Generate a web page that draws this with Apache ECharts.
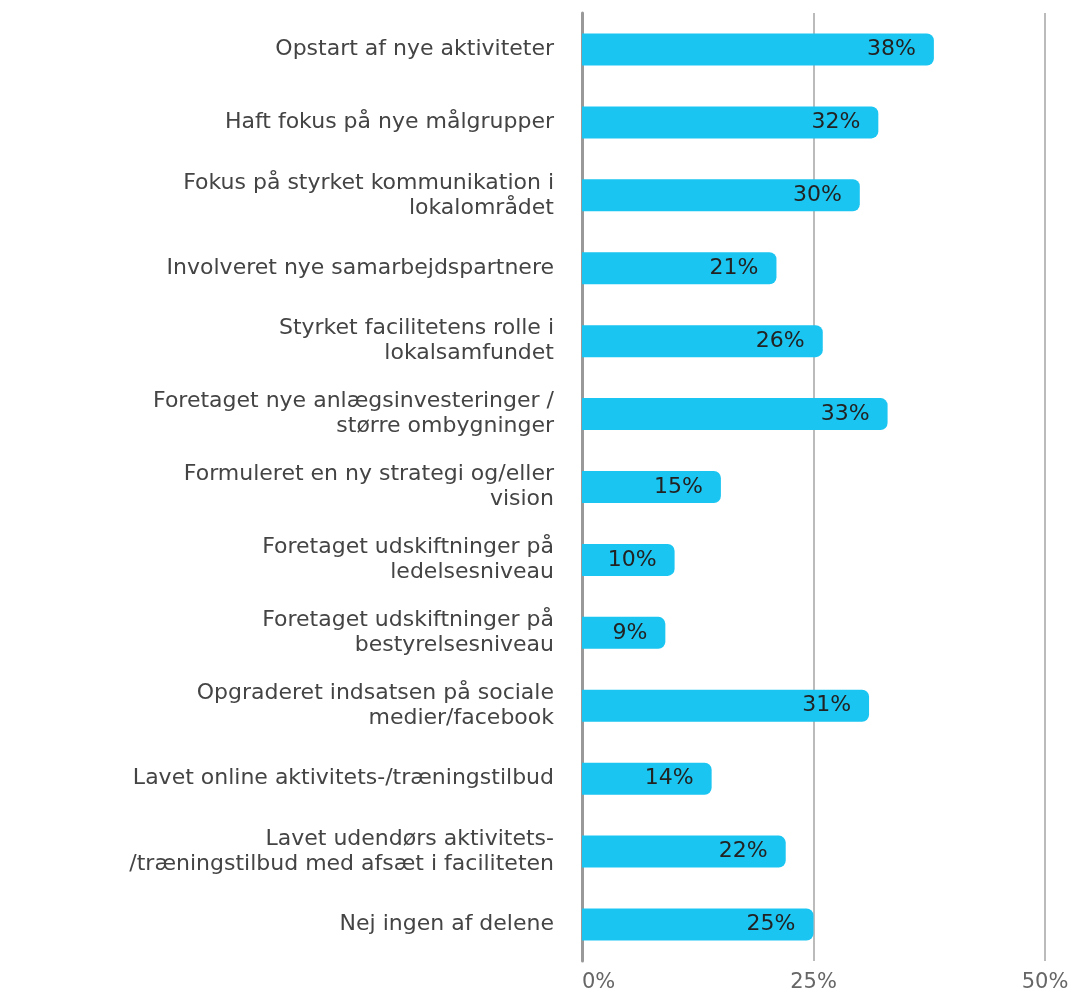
<!DOCTYPE html>
<html>
<head>
<meta charset="UTF-8">
<title>Aktiviteter</title>
<script type="text/javascript" src="https://cdn.jsdelivr.net/npm/echarts@6/dist/echarts.min.js"></script>
<style>
	html, body { margin: 0; padding: 0; background: #fff; }
	#main { width: 1076px; height: 993px; }
</style>
</head>
<body>
	<div id="main"></div>
	<script type="text/javascript">
		// kategorier, top til bund
		var categories = [
			'Opstart af nye aktiviteter',
			'Haft fokus på nye målgrupper',
			'Fokus på styrket kommunikation i\nlokalområdet',
			'Involveret nye samarbejdspartnere',
			'Styrket facilitetens rolle i\nlokalsamfundet',
			'Foretaget nye anlægsinvesteringer /\nstørre ombygninger',
			'Formuleret en ny strategi og/eller\nvision',
			'Foretaget udskiftninger på\nledelsesniveau',
			'Foretaget udskiftninger på\nbestyrelsesniveau',
			'Opgraderet indsatsen på sociale\nmedier/facebook',
			'Lavet online aktivitets-/træningstilbud',
			'Lavet udendørs aktivitets-\n/træningstilbud med afsæt i faciliteten',
			'Nej ingen af delene'
		];
		var values = [38, 32, 30, 21, 26, 33, 15, 10, 9, 31, 14, 22, 25];
		var ticks = [0, 25, 50];

		var myChart = echarts.init(document.getElementById('main'));
		var font = '"DejaVu Sans", sans-serif';

		var option = {
			animation: false,
			grid: { left: 582, right: 31, top: 13, bottom: 31, containLabel: false },
			xAxis: {
				type: 'value',
				min: ticks[0],
				max: ticks[ticks.length - 1],
				interval: ticks[1] - ticks[0],
				axisLine: { show: false },
				axisTick: { show: false },
				axisLabel: {
					formatter: '{value}%',
					fontFamily: font,
					fontSize: 21,
					color: '#666',
					margin: 11,
					alignMinLabel: 'left'
				},
				splitLine: { lineStyle: { color: '#bbb', width: 2 } }
			},
			yAxis: {
				type: 'category',
				inverse: true,
				data: categories,
				axisLine: { show: true, lineStyle: { color: '#999', width: 3 } },
				axisTick: { show: false },
				axisLabel: {
					fontFamily: font,
					fontSize: 22,
					color: '#444',
					lineHeight: 25,
					margin: 28,
					align: 'right'
				}
			},
			series: [{
				type: 'bar',
				data: values,
				barWidth: 32,
				itemStyle: { color: '#1bc5f1', borderRadius: [0, 7, 7, 0] },
				label: {
					show: true,
					position: 'insideRight',
					distance: 18,
					formatter: '{c}%',
					fontFamily: font,
					fontSize: 22,
					color: '#222'
				}
			}]
		};

		myChart.setOption(option);
		window.onresize = myChart.resize;
	</script>
</body>
</html>
